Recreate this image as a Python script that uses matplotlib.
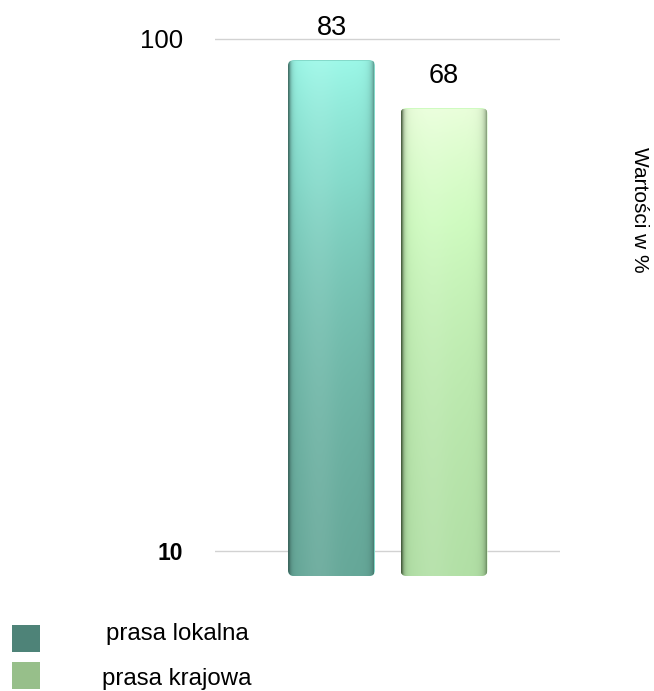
import numpy as np
import matplotlib
matplotlib.use("Agg")
import matplotlib.pyplot as plt
from matplotlib.patches import Rectangle, FancyBboxPatch
from matplotlib.transforms import IdentityTransform
from matplotlib.ticker import NullLocator
from matplotlib.colors import to_rgb

# ---- data ----
categories = ["prasa lokalna", "prasa krajowa"]
values = [83, 68]
tick_values = [10, 100]
tick_labels = ["10", "100"]
y_label = "Wartości w %"
legend_colors = ["#4E8378", "#97BF8A"]
grad_top = ["#9CF8E8", "#EAFFDB"]
grad_mid = ["#84DACA", "#CFFBC0"]
grad_bot = ["#66A899", "#B2E0A6"]
edge_dark = ["#2F534C", "#34482C"]

plt.rcParams['font.family'] = ['Liberation Sans', 'DejaVu Sans']

W, H = 654, 691
fig = plt.figure(figsize=(W / 100, H / 100), dpi=100)

# main axis (grid + ticks)
ax = fig.add_axes([215 / W, (H - 590) / H, 345 / W, 570 / H])
ax.set_yscale('log')
ax.set_ylim(8.39, 108.9)
ax.set_yticks(tick_values)
ax.set_yticklabels(tick_labels)
ax.yaxis.set_minor_locator(NullLocator())
ax.grid(axis='y', color='#d2d2d2', lw=1)
ax.set_axisbelow(True)
ax.tick_params(axis='y', length=0, pad=23)
ax.set_xticks([])
for s in ax.spines.values():
    s.set_visible(False)
tl = ax.get_yticklabels()
tl[0].set_fontweight('bold')
tl[0].set_fontsize(16.5)
tl[1].set_fontsize(18.5)

# bar axis
ax2 = ax.twinx()
ax2.set_yscale('log')
ylo, yhi = 9.19, 98.0
ax2.set_ylim(ylo, yhi)
ax2.yaxis.set_minor_locator(NullLocator())
ax2.set_yticks([])
for s in ax2.spines.values():
    s.set_visible(False)
base = 9.74
xpos = np.arange(len(values))
width = 0.773
bars = ax2.bar(xpos, [v - base for v in values], bottom=base, width=width,
               color=grad_mid, edgecolor='none', zorder=2)

for x, v in zip(xpos, values):
    ax2.annotate(str(v), (x, v), xytext=(0, 23), textcoords='offset points',
                 ha='center', va='center', fontsize=19.5)

# gradient images
rows, cols = 300, 120
u = np.linspace(0, 1, cols)
tt = np.linspace(0, 1, rows)
images = []
for i, (x, v) in enumerate(zip(xpos, values)):
    ct, cm, cb = (np.array(to_rgb(c)) for c in (grad_top[i], grad_mid[i], grad_bot[i]))
    vert = np.zeros((rows, 3))
    for k in range(3):
        vert[:, k] = np.interp(tt, [0, 0.45, 1], [ct[k], cm[k], cb[k]])
    img = np.repeat(vert[:, None, :], cols, axis=1)
    dark = np.array(to_rgb(edge_dark[i]))
    wl = 0.75 * np.exp(-u / 0.022) + 0.1 * np.exp(-u / 0.08)
    wr = 0.7 * np.exp(-(1 - u) / 0.03) + 0.15 * np.exp(-(1 - u) / 0.07)
    w = np.clip(wl + wr, 0, 0.9)[None, :, None]
    img = img * (1 - w) + dark[None, None, :] * w
    hl = 0.08 * np.exp(-((u - 0.35) / 0.2) ** 2)[None, :, None]
    img = np.clip(img + hl * (1 - img), 0, 1)
    im = ax2.imshow(img, extent=(x - width / 2, x + width / 2, base, v),
                    origin='upper', aspect='auto', zorder=3, interpolation='bilinear')
    images.append(im)
ax2.set_ylim(ylo, yhi)
ax2.set_xlim(-1.036, 2.031)
ax.set_xlim(-1.036, 2.031)

fig.canvas.draw()
r = 6
for b, im in zip(bars, images):
    bb = b.get_window_extent()
    clip = FancyBboxPatch((bb.x0 + r, bb.y0 + r), bb.width - 2 * r, bb.height - 2 * r,
                          boxstyle=f"round,pad={r}", transform=IdentityTransform())
    im.set_clip_path(clip)
    b.set_clip_path(clip)

# y label on right
fig.text(640 / W, 1 - 210 / H, y_label, rotation=-90, ha='center', va='center',
         fontsize=15)

# legend
sq_tops = [625, 662]
text_base = [640, 685]
text_x = [106, 102]
for c, lab, top, tb, tx in zip(legend_colors, categories, sq_tops, text_base, text_x):
    fig.add_artist(Rectangle((12 / W, 1 - (top + 27) / H), 28 / W, 27 / H,
                             transform=fig.transFigure, color=c, lw=0))
    fig.text(tx / W, 1 - tb / H, lab, ha='left', va='baseline', fontsize=17.3)

fig.savefig("out.png", dpi=100)
